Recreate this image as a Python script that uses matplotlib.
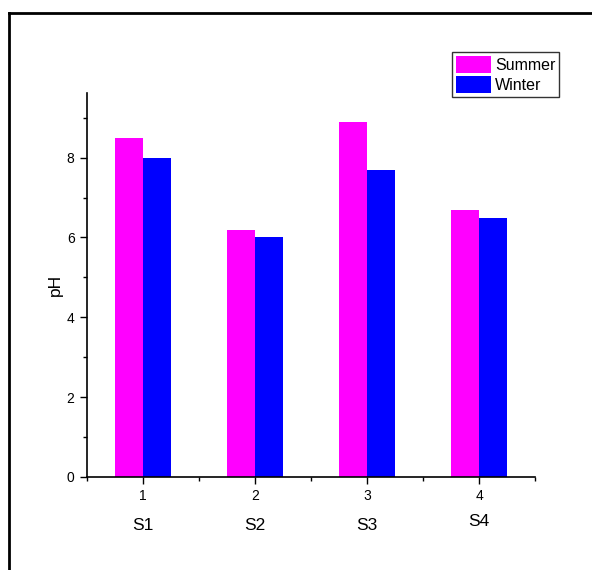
import matplotlib
matplotlib.use("Agg")
import matplotlib.pyplot as plt
import matplotlib.transforms as mtransforms
from matplotlib.patches import Patch
from matplotlib.lines import Line2D

plt.rcParams['font.family'] = ['Liberation Sans', 'DejaVu Sans']

positions = [1, 2, 3, 4]
sites = ["S1", "S2", "S3", "S4"]
summer = [8.5, 6.2, 8.9, 6.7]
winter = [8.0, 6.0, 7.7, 6.5]

W, H = 592, 570
fig = plt.figure(figsize=(W / 100, H / 100), dpi=100)
ax = fig.add_axes([87 / W, 1 - 477 / H, (535 - 87) / W, (477 - 93) / H])

bw = 0.25
ax.bar([p - bw / 2 for p in positions], summer, width=bw, color="#ff00ff", label="Summer")
ax.bar([p + bw / 2 for p in positions], winter, width=bw, color="#0000ff", label="Winter")

ax.set_xlim(0.5, 4.5)
ax.set_ylim(0, 9.62)
ax.set_xticks(positions)
ax.set_xticks([0.5, 1.5, 2.5, 3.5, 4.5], minor=True)
ax.set_yticks([0, 2, 4, 6, 8])
ax.set_yticks([1, 3, 5, 7, 9], minor=True)
ax.tick_params(which='major', direction='out', length=5, width=1, labelsize=10, pad=4)
ax.tick_params(which='minor', direction='out', length=3, width=1)
for s in ('top', 'right'):
    ax.spines[s].set_visible(False)
for s in ('left', 'bottom'):
    ax.spines[s].set_linewidth(1.2)

ax.set_ylabel("pH", fontsize=12.5, labelpad=3)

# site names under the numeric ticks
name_tf = mtransforms.blended_transform_factory(ax.transData, fig.transFigure)
for p, name in zip(positions, sites):
    ypix = 522 if name == "S4" else 526
    ax.text(p, 1 - ypix / H, name, transform=name_tf,
            ha='center', va='center', fontsize=12.5)

handles = [Patch(facecolor="#ff00ff", label="Summer"), Patch(facecolor="#0000ff", label="Winter")]
leg = fig.legend(handles=handles, loc='upper left', bbox_to_anchor=(452 / W, 1 - 52 / H),
                 frameon=True, fancybox=False, edgecolor='black', fontsize=11.5,
                 handlelength=2.2, handleheight=1.25, handletextpad=0.25, borderpad=0.25,
                 labelspacing=0.2, borderaxespad=0)
leg.get_frame().set_linewidth(1.0)

# outer frame (left and top edges visible)
fig.add_artist(Line2D([9 / W, 9 / W], [0, 1 - 13 / H], transform=fig.transFigure, color='black', lw=2))
fig.add_artist(Line2D([9 / W, 1], [1 - 13 / H, 1 - 13 / H], transform=fig.transFigure, color='black', lw=2))

fig.savefig("out.png", dpi=100)
